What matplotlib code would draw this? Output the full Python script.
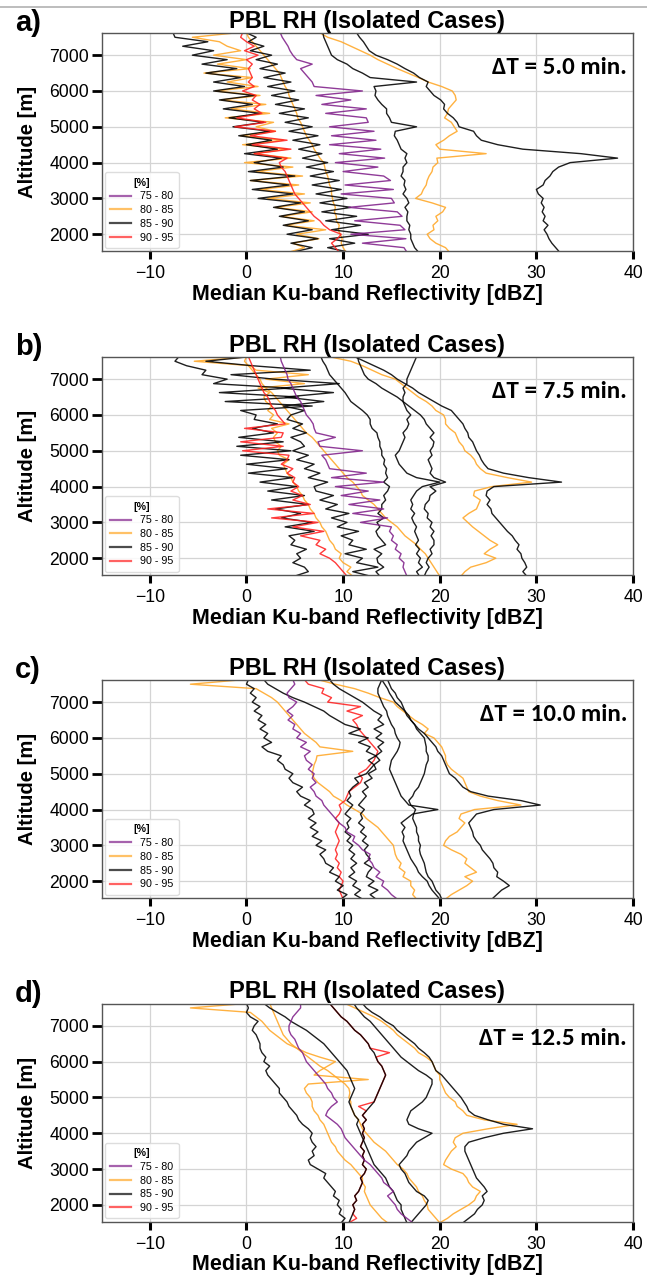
import matplotlib
matplotlib.use("Agg")
import matplotlib.pyplot as plt
from matplotlib.lines import Line2D
import numpy as np

# Altitude levels of the median profiles [m], 125 m steps
altitude = np.arange(1500, 7626, 125)

# Panel a) dT = 5.0 min  --  median Ku-band reflectivity [dBZ] per level
a_far = [32.4, 32.0, 31.6, 31.3, 31.1, 30.8, 31.2, 30.7, 30.9, 30.6,
         30.8, 30.5, 30.7, 30.2, 30.0, 30.7, 30.9, 31.4, 31.7, 32.3,
         33.5, 38.4, 34.6, 28.6, 26.0, 24.3, 23.8, 23.5, 22.0, 21.8,
         21.4, 20.8, 20.4, 20.5, 20.1, 19.4, 19.0, 18.6, 18.8, 17.9,
         17.3, 16.4, 15.6, 14.6, 13.4, 12.7, 12.4, 12.1, 11.7, 11.4]
a_orange_r = [21.0, 20.6, 19.6, 19.0, 18.7, 19.4, 19.3, 19.8, 19.6, 20.3,
              20.6, 19.2, 17.5, 18.1, 18.3, 18.6, 18.7, 18.9, 19.2, 19.3,
              19.8, 19.7, 24.8, 20.0, 19.6, 20.4, 21.0, 21.8, 21.5, 21.2,
              20.5, 20.8, 20.9, 21.3, 21.7, 21.6, 21.3, 20.2, 18.8, 17.8,
              16.7, 15.6, 14.6, 13.6, 12.8, 11.8, 10.8, 9.8, 8.4, 7.6]
a_black2 = [17.8, 17.4, 17.2, 17.0, 17.0, 16.8, 16.9, 16.6, 16.6, 16.7,
            16.4, 16.8, 16.6, 16.2, 16.5, 16.3, 16.4, 16.0, 16.2, 16.2,
            16.6, 16.4, 16.6, 16.0, 15.8, 15.6, 15.3, 15.4, 17.6, 15.0,
            14.8, 14.5, 14.5, 14.0, 13.6, 13.3, 13.4, 13.2, 17.6, 12.8,
            12.0, 11.0, 10.4, 9.4, 8.8, 8.6, 8.4, 8.2, 8.0, 7.9]
a_purple = [16.6, 16.3, 12.0, 16.5, 10.8, 16.4, 15.9, 11.2, 16.1, 15.6,
            10.6, 15.3, 15.0, 9.8, 15.2, 10.2, 14.9, 14.2, 10.0, 13.6,
            9.2, 14.3, 9.6, 13.9, 8.6, 13.4, 8.8, 13.2, 8.6, 12.6,
            12.4, 8.2, 12.4, 7.8, 10.8, 7.2, 12.0, 7.0, 6.8, 6.4,
            6.0, 5.6, 6.8, 5.2, 4.8, 4.5, 4.3, 4.0, 3.7, 3.5]
a_orange_mid = [10.3, 10.0, 9.8, 9.9, 9.7, 9.5, 9.6, 9.3, 9.3, 9.1,
                9.2, 9.0, 8.9, 8.8, 8.8, 8.6, 8.5, 8.4, 8.2, 8.1,
                8.0, 7.6, 7.3, 7.0, 6.8, 6.5, 6.2, 6.0, 5.8, 5.6,
                5.3, 5.2, 5.0, 4.8, 4.6, 4.4, 4.3, 4.0, 3.8, 3.6,
                3.4, 3.0, 2.6, 2.2, 1.8, 1.4, 1.0, 0.6, 0.2, 0.0]
a_orange_left = [4.4, 6.0, 4.8, 7.5, 5.2, 8.2, 4.0, 7.0, 3.6, 6.8,
                 3.0, 6.6, 2.2, 6.0, 1.4, 5.4, 0.4, 5.8, 1.0, 4.8,
                 -0.2, 4.6, 0.8, 4.2, -0.4, 3.8, -0.6, 3.0, 1.0, 2.8,
                 -2.2, 2.4, -1.6, 2.0, -2.6, 1.4, -3.2, 1.2, -2.0, 0.6,
                 -4.4, 0.4, -3.0, 0.0, -3.4, -0.6, -2.0, -2.8, -5.6, -1.0]
a_black_left = [4.8, 6.8, 4.6, 7.4, 4.2, 6.8, 3.8, 6.4, 3.4, 6.0,
                2.8, 5.6, 1.2, 4.8, 0.6, 4.4, 0.4, 5.0, 0.2, 3.8,
                0.8, 3.6, -0.2, 3.2, 0.0, 2.6, -0.8, 2.4, -1.4, 1.8,
                -1.8, 1.4, -2.4, 0.6, -2.8, 0.8, -3.4, -0.2, -3.4, -0.6,
                -4.2, -1.0, -4.6, -2.0, -5.6, -3.4, -6.6, -4.0, -7.4, -7.6]
a_black_right = [10.6, 8.4, 11.2, 8.6, 12.6, 8.8, 11.8, 8.2, 11.4, 7.8,
                 10.8, 7.6, 10.4, 7.2, 9.8, 6.8, 9.6, 6.6, 9.0, 6.2,
                 8.4, 5.8, 7.8, 5.4, 7.6, 4.8, 7.4, 4.4, 6.8, 4.0,
                 6.4, 3.4, 6.0, 3.0, 5.4, 2.6, 5.0, 2.2, 4.6, 1.8,
                 4.0, 1.4, 3.2, 1.0, 2.6, 0.4, 1.8, 0.2, 1.0, 0.0]
a_red = [9.6, 9.2, 8.8, 9.4, 9.8, 8.6, 8.0, 7.6, 7.0, 6.6,
         6.2, 5.8, 5.4, 5.0, 4.8, 4.6, 4.4, 4.2, 4.0, 3.6,
         3.4, 4.2, 0.8, 4.6, 0.6, 4.2, 0.4, 3.0, -1.2, 2.0,
         -1.0, 1.6, 0.8, 1.4, 0.6, 1.0, -0.4, 0.8, 0.2, 0.6,
         0.4, 0.2, 0.6, 0.0, 1.2, -0.2, 0.8, 0.0, -0.6, -0.4]

# Panel b) dT = 7.5 min
b_far = [29.0, 28.6, 29.0, 28.8, 28.5, 28.4, 28.0, 28.2, 27.8, 27.5,
         27.0, 26.6, 26.2, 25.8, 25.4, 25.3, 24.9, 25.2, 24.8, 24.9,
         25.6, 32.6, 29.2, 26.6, 25.0, 24.6, 24.3, 24.1, 23.8, 23.6,
         23.4, 23.0, 22.9, 22.6, 22.4, 22.0, 21.6, 21.2, 20.2, 19.4,
         18.6, 17.8, 17.2, 16.4, 15.6, 15.0, 14.2, 13.2, 12.2, 11.2]
b_orange_r = [22.2, 22.6, 23.2, 24.8, 25.8, 24.6, 25.2, 26.0, 25.2, 24.6,
              24.0, 23.4, 22.9, 22.4, 23.0, 23.8, 24.0, 24.2, 23.5, 23.6,
              25.4, 29.5, 27.0, 24.8, 24.2, 23.8, 23.6, 23.2, 22.6, 22.4,
              22.0, 21.8, 21.6, 21.0, 20.6, 20.6, 20.4, 19.6, 19.2, 18.6,
              17.8, 17.2, 16.6, 16.0, 15.4, 14.0, 13.0, 12.0, 10.8, 8.6]
b_black3 = [17.9, 17.6, 18.2, 17.8, 18.0, 17.6, 17.9, 17.5, 17.8, 17.6,
            17.4, 17.6, 17.3, 17.1, 17.4, 17.0, 17.2, 17.0, 17.3, 17.6,
            18.2, 20.0, 17.6, 16.6, 16.2, 15.8, 15.6, 15.4, 15.8, 16.0,
            16.2, 16.4, 16.2, 16.6, 16.8, 16.6, 17.0, 16.6, 16.4, 16.2,
            16.2, 16.4, 16.2, 16.6, 16.6, 16.8, 17.0, 17.2, 17.4, 17.6]
b_black4 = [18.4, 18.6, 18.9, 18.6, 18.8, 19.2, 19.0, 19.4, 19.4, 19.1,
            19.4, 19.0, 19.2, 18.7, 18.8, 18.4, 18.5, 18.9, 19.0, 19.6,
            19.0, 20.6, 19.4, 19.0, 19.2, 19.0, 18.8, 19.2, 19.0, 19.3,
            19.4, 19.0, 19.4, 19.0, 18.6, 18.4, 18.0, 17.4, 16.8, 16.2,
            15.6, 14.8, 14.0, 13.4, 12.6, 12.2, 12.0, 11.8, 11.6, 11.5]
b_black5 = [13.8, 13.4, 14.2, 13.6, 13.5, 14.0, 13.2, 14.4, 14.0, 13.6,
            13.4, 13.8, 13.5, 14.2, 13.6, 14.0, 14.0, 14.4, 14.2, 14.6,
            14.8, 14.2, 14.6, 14.4, 14.5, 14.2, 14.3, 14.0, 14.0, 13.8,
            13.8, 13.6, 13.5, 13.0, 12.8, 12.8, 12.5, 12.0, 11.4, 10.8,
            10.5, 10.2, 9.8, 9.4, 9.0, 8.6, 8.4, 8.2, 7.9, 7.7]
b_purple = [16.6, 16.4, 16.2, 16.3, 15.8, 16.0, 15.4, 15.6, 15.0, 15.2,
            14.8, 15.0, 11.8, 14.6, 11.0, 14.2, 10.6, 13.8, 9.8, 12.6,
            9.2, 14.2, 8.8, 12.4, 8.6, 8.4, 8.2, 7.8, 12.0, 7.6,
            7.4, 9.2, 7.2, 7.0, 6.9, 6.6, 6.2, 6.0, 5.8, 5.6,
            5.2, 5.0, 4.8, 4.6, 4.3, 4.2, 4.0, 3.8, 3.6, 3.5]
b_orange_mid = [20.0, 19.7, 19.4, 19.1, 18.8, 18.5, 18.0, 17.6, 17.0, 16.4,
                16.0, 15.6, 15.0, 14.4, 14.0, 13.6, 13.2, 12.6, 12.0, 11.8,
                11.4, 11.0, 10.4, 10.0, 9.6, 9.2, 8.8, 8.4, 8.0, 7.6,
                7.2, 6.8, 6.2, 5.8, 5.4, 5.0, 4.6, 4.2, 3.8, 3.4,
                3.0, 2.6, 2.0, 1.6, 1.4, 1.0, 0.6, 0.2, -0.2, 0.0]
b_orange_left = [11.0, 10.4, 10.8, 10.0, 9.6, 9.8, 9.2, 9.0, 8.6, 8.4,
                 8.2, 7.8, 7.6, 7.2, 7.0, 6.6, 6.4, 6.0, 5.8, 5.4,
                 5.2, 4.8, 4.6, 4.2, 4.0, 3.8, 4.4, 3.4, 3.2, 3.6,
                 3.0, 2.8, 3.2, 2.6, 4.4, 2.4, 2.8, 2.2, 2.6, 2.0,
                 1.8, 2.4, 1.2, 6.0, 2.0, 6.4, 1.0, 0.4, -5.4, 0.2]
b_red = [10.4, 10.0, 9.6, 9.2, 8.6, 7.6, 8.2, 7.2, 7.6, 5.6,
         8.0, 4.8, 7.4, 2.6, 7.0, 2.2, 6.6, 4.8, 5.8, 4.6,
         5.4, 4.8, 5.0, 4.2, 4.8, 3.6, 4.2, 4.4, -0.4, 3.8,
         -0.6, 3.6, 3.8, -0.2, 4.0, 3.6, 3.2, 3.0, 2.6, 2.4,
         2.2, 1.8, 1.6, 1.4, 1.2, 1.0, 0.8, 0.6, 0.4, 0.2]
b_black_left = [5.0, 6.4, 6.0, 4.8, 5.6, 5.2, 6.2, 4.6, 5.0, 4.4,
                7.0, 4.0, 6.8, 3.6, 5.6, 3.0, 6.4, 2.6, 6.0, 2.2,
                5.2, 1.4, 4.8, 0.2, 4.2, 0.0, 4.4, -0.6, 4.6, -1.0,
                3.8, -0.8, 2.8, 0.6, 3.2, 0.8, 1.0, -0.6, 6.8, -2.2,
                5.4, -2.8, 4.4, -3.4, -2.0, -4.6, -4.2, -6.2, -7.4, -7.0]
b_black_mid = [12.8, 11.0, 13.6, 11.4, 12.0, 10.2, 12.4, 10.6, 11.0, 9.8,
               11.6, 9.4, 10.4, 8.8, 10.6, 8.2, 9.4, 7.6, 9.0, 7.2,
               7.0, 8.4, 6.4, 7.6, 6.0, 7.0, 5.2, 6.4, 4.8, 6.0,
               5.6, 4.6, 6.2, 4.8, 5.8, 4.2, 4.6, 6.0, 3.8, 8.0,
               4.0, 9.0, 3.6, 9.6, 2.8, -1.6, 6.6, 0.6, -4.2, 0.2]

# Panel c) dT = 10.0 min
c_far = [25.4, 25.9, 26.4, 27.2, 26.6, 25.9, 26.0, 25.6, 25.5, 25.2,
         24.8, 24.4, 24.2, 23.8, 23.5, 23.4, 23.2, 23.0, 23.4, 23.8,
         25.6, 30.4, 28.4, 25.0, 23.2, 22.4, 22.0, 21.6, 21.0, 20.8,
         20.6, 20.4, 20.2, 19.8, 19.6, 19.2, 18.8, 18.4, 17.8, 17.4,
         17.0, 16.8, 16.4, 15.9, 15.4, 15.1, 14.8, 14.6, 14.3, 14.0]
c_orange_r = [20.6, 21.2, 22.0, 22.8, 23.4, 22.6, 23.8, 23.2, 22.6, 22.8,
              22.2, 21.2, 20.4, 20.6, 21.0, 21.8, 22.2, 22.6, 22.0, 22.2,
              23.6, 28.4, 26.0, 24.2, 23.0, 22.8, 22.6, 22.4, 21.8, 21.2,
              20.8, 20.6, 20.6, 20.4, 20.2, 19.8, 19.4, 18.4, 18.8, 18.2,
              17.4, 16.8, 16.2, 15.6, 15.2, 13.8, 12.6, 11.2, 9.2, 7.4]
c_black2 = [20.0, 19.6, 19.2, 18.9, 18.7, 18.2, 17.8, 17.6, 17.3, 17.0,
            16.8, 16.6, 16.4, 16.2, 16.3, 16.1, 16.4, 16.0, 16.6, 17.2,
            19.8, 16.8, 16.4, 16.0, 15.8, 15.6, 15.4, 15.2, 15.0, 14.8,
            14.9, 15.0, 15.3, 15.6, 15.8, 15.9, 15.6, 15.4, 15.3, 15.0,
            14.8, 14.6, 14.5, 14.2, 14.0, 13.8, 13.6, 13.6, 13.8, 14.0]
c_black3 = [20.2, 20.0, 19.6, 19.4, 19.2, 18.8, 18.6, 18.5, 18.4, 18.2,
            18.0, 17.9, 18.0, 17.8, 17.8, 17.6, 17.6, 17.4, 17.2, 17.3,
            17.5, 17.0, 16.8, 17.2, 17.4, 17.8, 18.0, 18.2, 18.4, 18.5,
            18.6, 18.8, 18.8, 18.6, 18.6, 18.5, 18.4, 18.0, 17.6, 17.4,
            17.0, 16.6, 16.4, 16.2, 16.0, 15.6, 15.4, 15.0, 14.8, 14.6]
c_orange_mid = [17.6, 17.2, 17.4, 17.0, 17.0, 16.2, 16.4, 15.8, 16.0, 15.6,
                15.4, 15.3, 15.2, 14.8, 14.4, 14.0, 13.6, 13.0, 12.4, 12.0,
                11.2, 10.4, 9.8, 9.0, 8.6, 8.0, 7.4, 7.0, 6.8, 6.9,
                7.0, 7.2, 7.3, 11.0, 7.6, 7.2, 6.6, 6.0, 5.6, 5.2,
                4.8, 4.4, 4.0, 3.6, 3.2, 2.6, 1.8, 1.0, -5.8, -0.4]
c_purple = [15.6, 15.0, 14.6, 14.0, 14.2, 13.4, 13.8, 13.2, 13.0, 12.6,
            12.8, 12.0, 11.6, 11.0, 11.2, 10.4, 10.2, 9.6, 9.2, 8.8,
            8.4, 8.0, 7.8, 7.2, 7.0, 6.6, 7.2, 6.8, 7.0, 6.4,
            6.8, 6.2, 6.0, 6.6, 5.6, 6.2, 5.2, 5.6, 4.8, 5.0,
            4.3, 4.8, 4.2, 4.8, 5.2, 4.4, 4.2, 4.6, 5.0, 4.8]
c_red = [10.0, 9.8, 9.6, 9.8, 10.0, 9.6, 9.8, 9.4, 9.6, 9.2,
         9.4, 9.2, 9.4, 9.6, 9.4, 9.2, 9.4, 9.6, 9.2, 9.6,
         9.8, 9.6, 10.2, 10.4, 10.6, 11.2, 11.8, 12.0, 11.6, 12.4,
         12.8, 13.2, 13.4, 13.6, 13.2, 12.8, 12.4, 12.0, 11.6, 11.4,
         11.0, 12.0, 10.4, 11.8, 8.4, 8.8, 7.8, 8.0, 6.4, 6.0]
c_black_left = [9.8, 10.4, 9.4, 10.0, 9.2, 9.6, 8.6, 9.0, 8.2, 8.0,
                7.6, 8.2, 7.2, 7.8, 6.8, 7.4, 6.6, 7.2, 6.4, 7.0,
                6.8, 6.0, 6.6, 5.6, 5.2, 5.8, 4.8, 4.4, 4.8, 4.0,
                3.8, 3.2, 3.6, 2.2, 1.6, 2.6, 1.8, 2.2, 1.4, 2.0,
                1.2, 1.6, 0.8, 1.4, 0.6, 1.0, 0.4, 0.8, 0.0, 0.2]
c_black_mid = [12.0, 11.2, 11.8, 11.0, 11.4, 10.6, 11.2, 10.8, 11.4, 10.8,
               11.2, 10.6, 11.0, 10.4, 10.8, 10.2, 10.6, 10.4, 10.8, 10.2,
               10.6, 11.0, 10.4, 10.8, 10.6, 11.0, 11.6, 11.2, 12.4, 12.8,
               13.2, 12.6, 13.4, 12.4, 12.8, 11.6, 12.6, 10.6, 11.8, 10.2,
               9.4, 8.6, 8.0, 7.0, 6.0, 4.8, 3.8, 3.0, 2.2, 1.8]
c_black_mid2 = [13.4, 12.8, 13.6, 12.6, 13.2, 12.4, 12.6, 13.0, 12.2, 12.8,
                12.4, 12.2, 12.6, 12.0, 12.4, 11.8, 12.2, 11.6, 12.0, 11.8,
                12.2, 11.6, 12.0, 12.4, 12.0, 12.6, 12.2, 13.0, 12.6, 13.4,
                13.2, 13.8, 13.4, 14.0, 13.6, 14.2, 13.4, 14.0, 13.2, 14.2,
                13.6, 14.0, 13.2, 12.6, 12.0, 11.2, 10.4, 9.6, 9.0, 8.6]

# Panel d) dT = 12.5 min
d_far = [22.4, 23.0, 23.6, 23.9, 24.4, 24.6, 24.4, 24.9, 24.6, 24.2,
         23.8, 23.6, 23.4, 23.2, 23.0, 22.8, 22.6, 22.6, 23.0, 24.6,
         26.6, 29.6, 26.6, 25.0, 23.6, 23.0, 22.8, 22.5, 22.2, 21.8,
         21.4, 21.0, 20.6, 20.2, 19.6, 19.4, 19.2, 18.9, 18.4, 17.8,
         17.4, 16.8, 16.2, 15.6, 15.2, 14.4, 13.8, 13.0, 12.4, 12.0]
d_orange_r = [20.0, 20.8, 21.4, 22.2, 23.0, 23.6, 23.8, 24.2, 23.4, 23.0,
              22.8, 22.4, 21.2, 20.4, 20.6, 20.9, 21.2, 21.7, 21.4, 21.6,
              22.4, 25.0, 28.0, 24.6, 22.8, 22.4, 21.8, 21.6, 21.0, 20.6,
              20.4, 20.2, 20.0, 20.0, 19.6, 19.4, 19.2, 18.6, 17.8, 17.4,
              16.8, 16.2, 15.6, 15.2, 14.6, 14.0, 13.2, 12.2, 11.2, 10.2]
d_black2 = [17.0, 17.4, 17.8, 18.2, 18.6, 18.8, 18.4, 17.6, 17.2, 16.8,
            16.6, 16.4, 16.0, 15.8, 16.2, 16.6, 16.8, 17.2, 17.6, 18.4,
            19.2, 17.8, 16.8, 16.6, 16.8, 17.0, 17.6, 18.2, 18.6, 18.8,
            19.0, 19.2, 19.2, 18.6, 17.8, 17.2, 16.6, 16.0, 15.6, 15.2,
            14.8, 14.4, 14.0, 13.6, 13.2, 12.8, 12.2, 11.8, 11.4, 11.1]
d_orange_mid = [14.6, 14.0, 13.6, 13.2, 12.8, 12.6, 12.4, 12.2, 12.3, 12.0,
                12.0, 11.6, 11.2, 10.8, 10.2, 9.8, 9.4, 9.2, 8.8, 8.6,
                8.4, 8.2, 8.0, 7.6, 7.4, 7.0, 6.8, 6.8, 6.6, 6.2,
                6.0, 6.4, 12.6, 7.0, 7.6, 8.4, 9.2, 7.6, 6.2, 5.2,
                4.2, 3.6, 3.0, 2.4, 2.0, 1.6, 1.0, 0.4, -5.8, 0.0]
d_orange_2 = [20.0, 19.6, 19.2, 18.8, 18.7, 18.4, 18.2, 17.8, 17.6, 17.2,
              16.8, 16.6, 16.2, 15.6, 15.2, 14.8, 14.4, 13.8, 13.2, 12.8,
              12.4, 12.0, 11.8, 11.6, 11.2, 11.0, 10.8, 10.8, 10.6, 10.7,
              10.6, 10.2, 9.6, 9.0, 8.4, 7.6, 7.0, 6.4, 5.8, 5.2,
              4.6, 4.2, 3.8, 3.6, 3.4, 3.2, 3.0, 2.8, 2.6, 2.4]
d_purple = [17.2, 16.6, 16.0, 15.6, 15.4, 15.0, 14.6, 15.2, 14.8, 14.2,
            14.0, 13.6, 13.2, 12.8, 12.2, 11.8, 11.4, 11.0, 10.6, 10.2,
            10.0, 9.8, 9.4, 8.8, 8.2, 8.4, 8.8, 9.4, 9.0, 8.8,
            8.4, 8.2, 7.8, 7.4, 7.0, 6.6, 6.2, 6.0, 5.8, 5.4,
            5.2, 5.0, 4.6, 4.4, 4.4, 4.6, 4.8, 5.2, 5.6, 5.6]
d_black_left = [9.8, 10.2, 9.6, 9.8, 9.4, 9.6, 9.0, 9.2, 8.8, 8.4,
                8.0, 8.2, 7.4, 6.6, 6.4, 7.0, 6.8, 7.2, 6.8, 6.6,
                6.8, 6.4, 5.8, 5.4, 5.2, 4.8, 4.4, 4.2, 3.8, 3.4,
                3.4, 3.0, 2.6, 2.2, 2.0, 2.4, 1.8, 2.0, 1.6, 1.4,
                1.4, 1.2, 1.0, 0.6, 0.8, 1.2, 0.4, 0.0, 0.2, 0.0]
d_black_mid = [16.6, 16.4, 16.2, 16.0, 16.0, 15.6, 15.4, 15.2, 14.8, 14.6,
               14.4, 14.0, 13.6, 13.2, 13.0, 12.8, 12.6, 12.4, 12.2, 12.0,
               11.8, 11.6, 11.4, 11.6, 11.2, 11.0, 10.8, 10.6, 10.8, 11.0,
               11.2, 11.0, 10.8, 10.6, 10.4, 10.0, 9.6, 9.2, 8.8, 8.4,
               8.0, 7.4, 6.8, 6.2, 5.4, 4.6, 4.0, 3.2, 2.4, 1.8]
d_black_mid2 = [10.6, 10.8, 11.0, 11.2, 11.0, 11.4, 11.2, 11.6, 11.8, 12.0,
                11.8, 12.2, 12.4, 12.0, 12.2, 12.0, 12.2, 11.8, 12.0, 12.2,
                12.0, 12.2, 12.0, 12.4, 12.0, 12.4, 12.8, 13.2, 13.4, 13.6,
                13.8, 14.0, 14.2, 14.4, 14.2, 14.0, 13.6, 13.4, 13.2, 12.8,
                12.6, 12.2, 11.8, 11.2, 10.8, 10.4, 9.8, 9.4, 9.0, 8.6]
d_red = [10.6, 11.4, 11.0, 11.2, 11.0, 11.4, 11.2, 11.6, 11.8, 12.0,
         11.8, 12.2, 12.4, 12.0, 12.2, 12.0, 12.2, 11.8, 12.0, 12.2,
         12.0, 12.2, 12.0, 12.4, 12.0, 12.4, 11.6, 13.2, 13.4, 13.6,
         13.8, 14.0, 14.2, 14.4, 14.2, 14.0, 13.6, 13.4, 14.8, 12.8,
         12.6, 12.2, 11.8, 11.2, 10.8, 10.4, 9.8, 9.4, 9.0, 8.6]

# PBL relative humidity bins [%] and their colours
rh_bins = ["75 - 80", "80 - 85", "85 - 90", "90 - 95"]
rh_colors = ["#80208a", "#ffa726", "#000000", "#ff2020"]
dt_minutes = ["5.0", "7.5", "10.0", "12.5"]
panel_tags = ["a)", "b)", "c)", "d)"]

# (rh bin index, profile) in drawing order for each panel
panels = [
    [(1, a_orange_r), (1, a_orange_mid), (1, a_orange_left),
     (2, a_far), (2, a_black2), (2, a_black_left), (2, a_black_right),
     (0, a_purple), (3, a_red)],
    [(1, b_orange_r), (1, b_orange_mid), (1, b_orange_left),
     (2, b_far), (2, b_black3), (2, b_black4), (2, b_black5),
     (2, b_black_left), (2, b_black_mid), (0, b_purple), (3, b_red)],
    [(1, c_orange_r), (1, c_orange_mid), (3, c_red),
     (2, c_far), (2, c_black2), (2, c_black3), (2, c_black_left),
     (2, c_black_mid), (2, c_black_mid2), (0, c_purple)],
    [(1, d_orange_r), (1, d_orange_mid), (1, d_orange_2),
     (3, d_red), (2, d_far), (2, d_black2), (2, d_black_left),
     (2, d_black_mid), (2, d_black_mid2), (0, d_purple)],
]

plt.rcParams["font.family"] = ["Liberation Sans", "DejaVu Sans"]

fig = plt.figure(figsize=(6.47, 12.77), dpi=100)

# thin rule along the top edge
fig.add_artist(Line2D([0, 1], [0.9948, 0.9948], color="#bdbdbd", lw=1.4))

ax_left, ax_w, ax_h = 0.1569, 0.8215, 0.1705
ax_bottoms = [0.8034, 0.5497, 0.2968, 0.0433]
for k, profiles in enumerate(panels):
    ax = fig.add_axes([ax_left, ax_bottoms[k], ax_w, ax_h])

    for ci, prof in profiles:
        ax.plot(prof, altitude, color=rh_colors[ci], lw=1.0, alpha=0.88)

    ax.set_xlim(-15, 40)
    ax.set_ylim(1530, 7610)
    ax.set_xticks([-10, 0, 10, 20, 30, 40])
    ax.set_yticks([2000, 3000, 4000, 5000, 6000, 7000])
    ax.grid(True, color="#d4d4d4", lw=0.9)
    ax.set_axisbelow(True)
    for sp in ax.spines.values():
        sp.set_color("#555555")
        sp.set_linewidth(1.0)
    ax.tick_params(axis="y", direction="out", length=7, width=2.0,
                   labelsize=12.7, pad=2)
    ax.tick_params(axis="x", direction="out", length=6, width=2.2,
                   labelsize=12.7, pad=4)

    ax.set_title("PBL RH (Isolated Cases)", fontsize=17, fontweight="bold",
                 pad=4)
    ax.set_xlabel("Median Ku-band Reflectivity [dBZ]", fontsize=15.5,
                  fontweight="bold")
    ax.xaxis.label.set_va("center")
    ax.xaxis.set_label_coords(0.5, -0.198)
    ax.set_ylabel("Altitude [m]", fontsize=14.6, fontweight="bold")
    ax.yaxis.set_label_coords(-0.121, 0.5)

    ax.text(0.989, 0.843, "\u0394T = %s min." % dt_minutes[k],
            transform=ax.transAxes, ha="right", va="center",
            fontsize=18, fontweight="bold", family=["Carlito", "DejaVu Sans"])

    fig.text(0.023, ax_bottoms[k] + ax_h + 0.0078, panel_tags[k],
             fontsize=21, fontweight="bold", ha="left", va="center")

    handles = [Line2D([], [], color=c, lw=1.6, alpha=0.7) for c in rh_colors]
    leg = ax.legend(handles, rh_bins, title="[%]", loc="lower left",
                    fontsize=7.7, title_fontsize=7.7, handlelength=2.0,
                    labelspacing=0.35, borderpad=0.5, borderaxespad=0.3,
                    framealpha=0.85, edgecolor="#d8d8d8", fancybox=True)
    leg.get_title().set_fontweight("bold")

fig.savefig("out.png", dpi=100)
